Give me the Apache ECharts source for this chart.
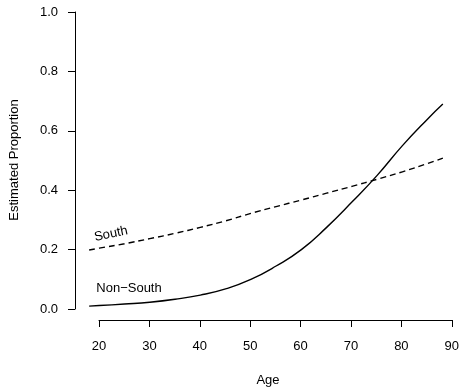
<!DOCTYPE html>
<html>
<head>
<meta charset="utf-8">
<script src="https://cdn.jsdelivr.net/npm/echarts@6/dist/echarts.min.js"></script>
<style>
  html, body { margin: 0; padding: 0; background: #fff; }
  #chart { width: 462px; height: 388px; }
</style>
</head>
<body>
<div id="chart"></div>
<script>
// values
var ages = [18, 20, 25, 30, 35, 40, 45, 50, 55, 60, 65, 70, 75, 80, 85, 88]
var nonSouth = [0.010, 0.012, 0.017, 0.023, 0.033, 0.047, 0.068, 0.100, 0.145, 0.200, 0.275, 0.360, 0.450, 0.550, 0.640, 0.690]
var south = [0.199, 0.205, 0.220, 0.237, 0.255, 0.275, 0.297, 0.322, 0.345, 0.367, 0.390, 0.413, 0.437, 0.462, 0.490, 0.508]
var xTicks = [20, 90, 10]   // min, max, step
var yTicks = [0, 1, 0.2]

var font = 'Liberation Sans, Arial, sans-serif'
var ink = '#000'
var fs = 13

function pairs (ys) {
  return ages.map(function (a, i) { return [a, ys[i]] })
}

var chart = echarts.init(document.getElementById('chart'))

var option = {
  backgroundColor: '#fff',
  animation: false,
  grid: [
    // plot region (R pads the data range by 4%)
    { left: 75, right: 5, top: 0, bottom: 67 },
    // x axis drawn from 20 to 90 only
    { left: 99, right: 9, top: 0, bottom: 68 },
    // y axis drawn from 0 to 1 only
    { left: 75, right: 5, top: 12, bottom: 79 }
  ],
  xAxis: [
    { gridIndex: 0, type: 'value', min: 15.2, max: 90.8, show: false },
    {
      gridIndex: 1,
      type: 'value',
      min: xTicks[0],
      max: xTicks[1],
      interval: xTicks[2],
      axisLine: { show: true, lineStyle: { color: ink, width: 1 } },
      axisTick: { show: true, length: 7, lineStyle: { color: ink } },
      axisLabel: { color: ink, fontSize: fs, fontFamily: font, margin: 20 },
      splitLine: { show: false }
    },
    { gridIndex: 2, type: 'value', show: false }
  ],
  yAxis: [
    { gridIndex: 0, type: 'value', min: -0.04, max: 1.04, show: false },
    { gridIndex: 1, type: 'value', show: false },
    {
      gridIndex: 2,
      type: 'value',
      min: yTicks[0],
      max: yTicks[1],
      interval: yTicks[2],
      axisLine: { show: true, lineStyle: { color: ink, width: 1 } },
      axisTick: { show: true, length: 7, lineStyle: { color: ink } },
      axisLabel: {
        color: ink,
        fontSize: fs,
        fontFamily: font,
        margin: 17,
        formatter: function (v) { return v.toFixed(1) }
      },
      splitLine: { show: false }
    }
  ],
  series: [
    {
      name: 'Non-South',
      type: 'line',
      xAxisIndex: 0,
      yAxisIndex: 0,
      data: pairs(nonSouth),
      smooth: true,
      showSymbol: false,
      lineStyle: { color: ink, width: 1.4 }
    },
    {
      name: 'South',
      type: 'line',
      xAxisIndex: 0,
      yAxisIndex: 0,
      data: pairs(south),
      smooth: true,
      showSymbol: false,
      lineStyle: { color: ink, width: 1.4, type: [6, 4] }
    }
  ],
  graphic: [
    {
      type: 'text',
      x: 268,
      y: 380,
      style: { text: 'Age', font: fs + 'px ' + font, fill: ink, align: 'center', verticalAlign: 'middle' }
    },
    {
      type: 'text',
      x: 14,
      y: 160,
      rotation: Math.PI / 2,
      style: { text: 'Estimated Proportion', font: fs + 'px ' + font, fill: ink, align: 'center', verticalAlign: 'middle' }
    },
    {
      type: 'text',
      x: 111,
      y: 234,
      rotation: 12 * Math.PI / 180,
      style: { text: 'South', font: fs + 'px ' + font, fill: ink, align: 'center', verticalAlign: 'middle' }
    },
    {
      type: 'text',
      x: 129,
      y: 288,
      style: { text: 'Non\u2212South', font: fs + 'px ' + font, fill: ink, align: 'center', verticalAlign: 'middle' }
    }
  ]
}

chart.setOption(option)
</script>
</body>
</html>
